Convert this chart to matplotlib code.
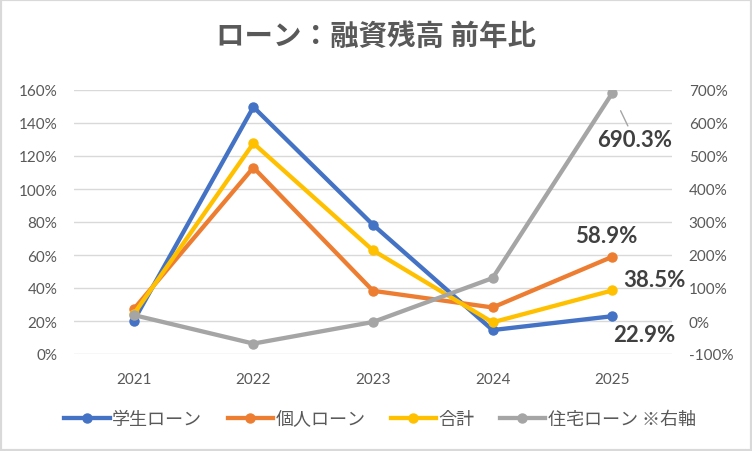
import matplotlib.pyplot as plt
from matplotlib.patches import Rectangle
from matplotlib.ticker import FuncFormatter

plt.rcParams['font.family'] = ['Lato', 'Noto Sans CJK JP', 'DejaVu Sans']

years = ['2021', '2022', '2023', '2024', '2025']
student = [20.2, 149.7, 78.3, 14.5, 22.9]
personal = [27.2, 113.0, 38.3, 28.2, 58.9]
total = [24.2, 127.7, 62.8, 19.2, 38.5]
housing = [18.0, -68.5, -3.0, 130.0, 690.3]   # right axis

names = ['学生ローン', '個人ローン', '合計', '住宅ローン ※右軸']
colors = ['#4472c4', '#ed7d31', '#ffc000', '#a5a5a5']
grey_text = '#595959'
jp = ['Noto Sans CJK JP', 'DejaVu Sans']

fig = plt.figure(figsize=(7.52, 4.52), dpi=100)
fig.patches.append(Rectangle((0, 0), 1, 1, transform=fig.transFigure,
                             fill=False, edgecolor='#d9d9d9', lw=3))

ax = fig.add_axes([74 / 752, 1 - 355 / 452, 598 / 752, 264 / 452])
ax2 = ax.twinx()

x = range(len(years))
lines = []
for vals, c in zip([student, personal, total], colors[:3]):
    ln, = ax.plot(x, vals, color=c, lw=3.1, marker='o', ms=6.5, zorder=3)
    lines.append(ln)
ln, = ax2.plot(x, housing, color=colors[3], lw=3.1, marker='o', ms=6.5, zorder=3)
lines.append(ln)

ax.set_xlim(-0.5, 4.5)
ax.set_ylim(0, 160)
ax.set_yticks(range(0, 161, 20))
ax2.set_ylim(-100, 700)
ax2.set_yticks(range(-100, 701, 100))
ax.set_xticks(list(x))
ax.set_xticklabels(years)

pct = FuncFormatter(lambda v, p: f'{v:.0f}%')
ax.yaxis.set_major_formatter(pct)
ax2.yaxis.set_major_formatter(pct)

ax.grid(axis='y', color='#d9d9d9', lw=1)
ax.set_axisbelow(True)
for a in (ax, ax2):
    for s in a.spines.values():
        s.set_visible(False)
    a.tick_params(length=0, labelsize=11, colors=grey_text)
ax.tick_params(axis='y', pad=12)
ax2.tick_params(axis='y', pad=12)
ax.tick_params(axis='x', pad=13)

lab = dict(fontsize=16, fontweight='bold', color='#404040',
           textcoords='offset pixels', ha='center', va='center')
ax2.annotate(f'{housing[4]}%', (4, housing[4]), xytext=(22, -46),
             arrowprops=dict(arrowstyle='-', color='#a5a5a5', lw=1,
                             shrinkA=0, shrinkB=14), **lab)
ax.annotate(f'{personal[4]}%', (4, personal[4]), xytext=(-6, 21), **lab)
ax.annotate(f'{total[4]}%', (4, total[4]), xytext=(42, 11), **lab)
ax.annotate(f'{student[4]}%', (4, student[4]), xytext=(32, -18), **lab)

fig.text(0.5, 1 - 37 / 452, 'ローン：融資残高 前年比', ha='center', va='center',
         fontsize=20.5, fontweight='bold', color=grey_text, family=jp)

leg = fig.legend(lines, names, loc='center', bbox_to_anchor=(380 / 752, 1 - 420 / 452),
                 ncol=4, frameon=False, handlelength=2.5, columnspacing=1.4,
                 handletextpad=0.15, prop={'family': jp, 'size': 13})
for t in leg.get_texts():
    t.set_color(grey_text)

fig.savefig('out.png', dpi=100)
